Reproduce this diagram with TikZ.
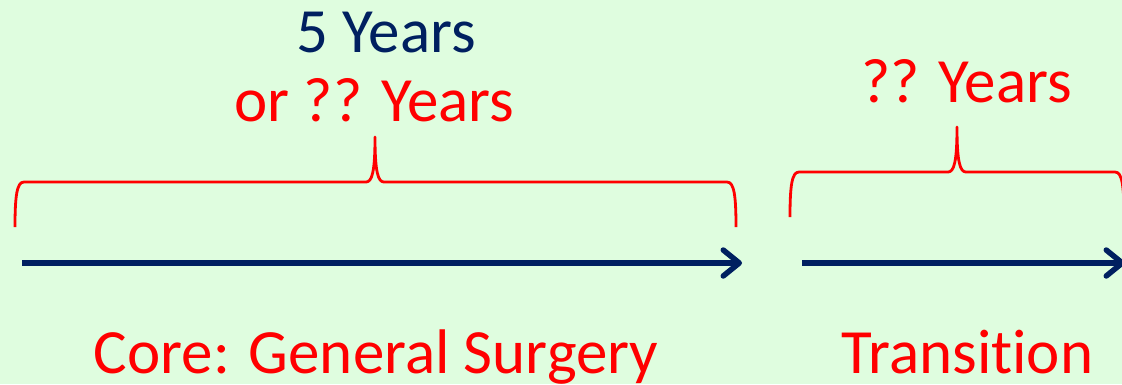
\documentclass[tikz,border=0pt]{standalone}
\usepackage{fontspec}
\setmainfont{Carlito}[RawFeature={-liga;-clig;-calt;-dlig}]
\usetikzlibrary{arrows.meta}
\definecolor{bggreen}{RGB}{223,253,223}
\definecolor{navy}{RGB}{0,32,96}
\tikzset{
    timeline/.style={line width=5.5pt, navy, -{Straight Barb[length=16pt, width=26pt, round]}},
    span/.style={line width=2.8pt, red, line join=round},
    label/.style={anchor=base, inner sep=0pt, font=\fontsize{63}{72}\selectfont},
}
\begin{document}
\begin{tikzpicture}[x=1pt, y=-1pt]
    \fill[bggreen] (0,0) rectangle (1122,384);
    \useasboundingbox (0,0) rectangle (1122,384);
    % time lines
    \coordinate (core start) at (22,263);
    \coordinate (core end) at (742,263);
    \coordinate (trans start) at (802,263);
    \coordinate (trans end) at (1125,263);
    \draw[timeline] (core start) -- (core end);
    \draw[timeline] (trans start) -- (trans end);
    % braces
    \draw[span] (15,227) .. controls (15,195) and (17,182) .. (24,182) -- (366,182)
        .. controls (372,182) and (375,172) .. (375,137)
        .. controls (375,172) and (378,182) .. (384,182) -- (727,182)
        .. controls (734,182) and (736,195) .. (736,227);
    \draw[span] (790,217) .. controls (790,185) and (792,172) .. (799,172) -- (948,172)
        .. controls (954,172) and (957,162) .. (957,127)
        .. controls (957,162) and (960,172) .. (966,172) -- (1115,172)
        .. controls (1122,172) and (1124,185) .. (1124,217);
    % labels
    \node[label, navy] (core years) at (386,52) {5 Years};
    \node[label, red] (core alt years) at (374.5,121) {or ?? Years};
    \node[label, red] (trans years) at (966.5,102) {?? Years};
    \node[label, red] (core label) at (376,373) {Core: General Surgery};
    \node[label, red] (trans label) at (967.5,373) {Transi\kern0pt tion};
\end{tikzpicture}
\end{document}
